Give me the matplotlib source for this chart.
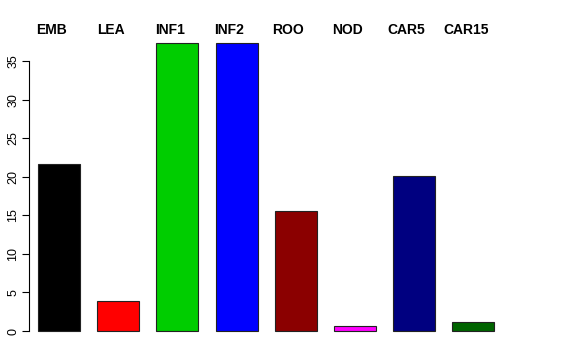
import matplotlib
matplotlib.use('Agg')
import matplotlib.pyplot as plt
import matplotlib.transforms as mtransforms

plt.rcParams['font.family'] = ['Liberation Sans', 'DejaVu Sans']

labels = ['EMB', 'LEA', 'INF1', 'INF2', 'ROO', 'NOD', 'CAR5', 'CAR15']
values = [21.65, 3.9, 37.3, 37.3, 15.55, 0.65, 20.1, 1.15]
colors = ['#000000', '#FF0000', '#00CD00', '#0000FF', '#8B0000', '#FF00FF', '#000080', '#006400']
yticks = [0, 5, 10, 15, 20, 25, 30, 35]

fig = plt.figure(figsize=(5.76, 3.6), dpi=100)
ax = fig.add_axes([0.0503, 0.0483, 0.873, 0.8636])
x = list(range(len(labels)))
ax.bar(x, values, width=0.71, color=colors, edgecolor='#222222', linewidth=0.8)
ax.set_xlim(-0.507, 7.99)
ax.set_ylim(-1.5, 38.8)

for sp in ['top', 'right', 'bottom']:
    ax.spines[sp].set_visible(False)
ax.spines['left'].set_bounds(0, 35)
ax.spines['left'].set_linewidth(0.8)
ax.set_xticks([])
ax.set_yticks(yticks)
ax.set_yticklabels([str(v) for v in yticks], rotation=90, va='center', fontsize=9)
ax.tick_params(axis='y', length=5, width=0.8, pad=2)

# group labels along the top, like mtext in R
trans = mtransforms.blended_transform_factory(ax.transData, fig.transFigure)
for i, lab in enumerate(labels):
    ax.text(i - 0.125, 1 - 30 / 360, lab, transform=trans,
            ha='center', va='center', fontsize=10, fontweight='bold')

fig.savefig('out.png', dpi=100, facecolor='white')
